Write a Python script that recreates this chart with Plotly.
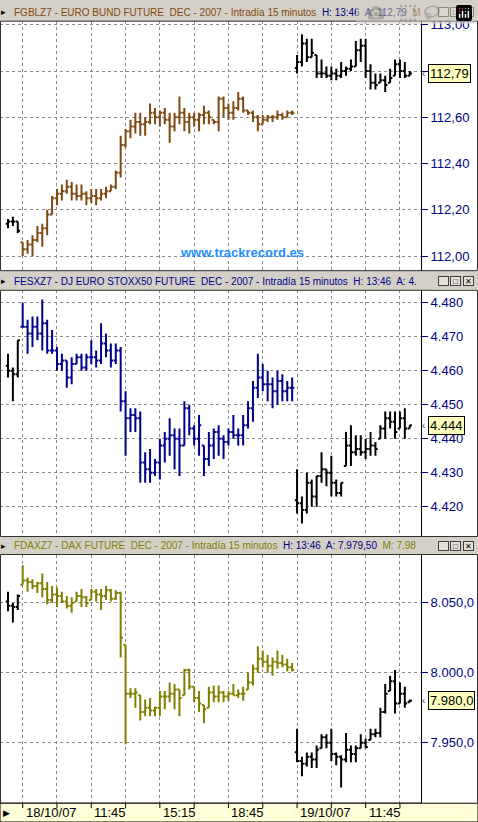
import plotly.graph_objects as go

# ---------------- data (bar index 0..82, 15-minute bars) ----------------
bund_high = [112.16,112.17,112.15,112.06,112.07,112.09,112.13,112.14,112.20,112.26,112.29,112.31,112.33,112.32,112.31,112.31,112.28,112.29,112.29,112.29,112.30,112.31,112.37,112.52,112.55,112.59,112.62,112.62,112.60,112.66,112.64,112.63,112.64,112.62,112.62,112.69,112.64,112.62,112.62,112.62,112.65,112.63,112.59,112.69,112.69,112.66,112.67,112.71,112.69,112.63,112.63,112.61,112.61,112.61,112.61,112.63,112.62,112.63,112.63,
             112.87,112.96,112.94,112.94,112.87,112.85,112.82,112.82,112.81,112.84,112.82,112.85,112.93,112.94,112.94,112.83,112.79,112.79,112.78,112.81,112.85,112.85,112.84,112.80]
bund_low = [112.12,112.13,112.10,112.00,112.01,112.00,112.06,112.04,112.09,112.18,112.22,112.24,112.27,112.24,112.24,112.24,112.22,112.23,112.22,112.24,112.25,112.28,112.29,112.34,112.47,112.51,112.53,112.52,112.52,112.57,112.57,112.56,112.57,112.49,112.54,112.57,112.54,112.53,112.56,112.54,112.57,112.57,112.57,112.54,112.60,112.59,112.59,112.63,112.62,112.61,112.58,112.54,112.57,112.58,112.58,112.59,112.59,112.60,112.61,
            112.79,112.82,112.84,112.86,112.77,112.77,112.77,112.76,112.76,112.77,112.78,112.80,112.82,112.84,112.77,112.72,112.72,112.75,112.71,112.75,112.78,112.77,112.77,112.78]
bund_close = [112.15,112.15,112.11,112.03,112.05,112.07,112.10,112.12,112.18,112.25,112.27,112.28,112.30,112.27,112.26,112.27,112.25,112.26,112.25,112.27,112.28,112.30,112.36,112.48,112.54,112.56,112.58,112.57,112.58,112.62,112.60,112.62,112.59,112.56,112.60,112.62,112.58,112.60,112.59,112.61,112.62,112.60,112.58,112.68,112.64,112.62,112.64,112.68,112.63,112.62,112.60,112.57,112.59,112.60,112.60,112.61,112.60,112.62,112.62,
              112.84,112.92,112.86,112.88,112.79,112.79,112.78,112.79,112.78,112.80,112.81,112.82,112.89,112.91,112.80,112.75,112.74,112.76,112.74,112.77,112.83,112.80,112.78,112.79]

esx_high = [4465,4461,4469,4480,4475,4476,4476,4481,4475,4472,4467,4465,4463,4464,4465,4465,4465,4469,4466,4474,4471,4468,4468,4467,4454,4449,4449,4448,4436,4437,4434,4440,4442,4446,4443,4443,4451,4450,4444,4447,4438,4442,4443,4444,4441,4443,4447,4443,4447,4451,4457,4465,4462,4460,4458,4460,4459,4457,4458,
            4431,4423,4430,4428,4429,4436,4431,4435,4428,4427,4442,4444,4441,4441,4440,4442,4439,4444,4448,4448,4448,4448,4449,4444]
esx_low = [4458,4451,4458,4473,4465,4467,4469,4466,4465,4465,4460,4460,4455,4456,4462,4460,4460,4462,4461,4462,4464,4461,4462,4448,4435,4442,4442,4427,4427,4427,4429,4428,4433,4435,4431,4429,4438,4441,4438,4435,4429,4432,4434,4435,4434,4438,4440,4438,4438,4443,4445,4452,4454,4451,4449,4450,4451,4451,4451,
           4418,4415,4418,4420,4420,4427,4426,4423,4423,4423,4432,4432,4435,4435,4434,4435,4435,4440,4440,4443,4440,4443,4440,4443]
esx_close = [4460,4459,4469,4473,4471,4473,4471,4474,4466,4466,4462,4463,4458,4462,4464,4461,4464,4464,4463,4468,4466,4463,4466,4451,4446,4447,4446,4433,4431,4430,4433,4438,4440,4441,4440,4438,4449,4443,4440,4444,4434,4438,4442,4440,4439,4442,4441,4441,4444,4449,4455,4458,4456,4456,4454,4457,4454,4455,4455,
             4421,4419,4427,4423,4429,4431,4430,4427,4424,4427,4438,4436,4437,4436,4437,4438,4437,4443,4446,4445,4442,4446,4443,4444]

dax_high = [8058,8050,8056,8077,8068,8067,8065,8071,8065,8062,8061,8058,8055,8054,8058,8060,8055,8060,8060,8060,8062,8060,8059,8058,8020,7989,7989,7984,7981,7982,7976,7987,7987,7993,7992,7988,8003,8003,7990,7987,7977,7990,7991,7991,7987,7987,7992,7988,7990,8000,8006,8019,8016,8013,8011,8016,8013,8010,8007,
            7960,7940,7943,7943,7948,7956,7956,7960,7943,7941,7957,7948,7948,7956,7953,7960,7960,7975,7992,7998,8002,7993,7990,7981]
dax_low = [8044,8036,8045,8063,8058,8060,8057,8054,8049,8050,8047,8050,8046,8043,8051,8047,8047,8052,8051,8045,8052,8051,8052,8011,7949,7982,7975,7966,7969,7969,7969,7969,7974,7979,7974,7969,7984,7988,7979,7972,7964,7975,7979,7979,7979,7980,7984,7982,7980,7988,7991,8000,8004,8000,7998,8003,8004,8001,8001,
           7936,7926,7933,7932,7932,7946,7946,7937,7934,7918,7936,7936,7936,7946,7946,7952,7954,7954,7971,7987,7971,7978,7975,7979]
dax_close = [8048,8047,8055,8066,8065,8062,8064,8060,8052,8056,8055,8051,8048,8050,8055,8054,8050,8058,8056,8055,8059,8053,8057,8025,7985,7985,7986,7972,7975,7973,7975,7983,7983,7985,7988,7982,8002,7990,7982,7978,7974,7986,7983,7986,7983,7985,7984,7985,7985,7993,8003,8010,8008,8005,8008,8007,8006,8004,8002,
             7937,7935,7940,7938,7945,7954,7950,7942,7940,7938,7945,7942,7946,7950,7947,7956,7957,7972,7985,7994,7978,7985,7978,7980]

x_tick_idx = [3, 17, 31, 45, 59, 73]
x_tick_text = ["18/10/07", "11:45", "15:15", "18:45", "19/10/07", "11:45"]
grid_idx = [3, 10, 17, 24, 31, 38, 45, 52, 59, 66, 73, 80]

panels = [
    dict(h=bund_high, l=bund_low, c=bund_close, color="#7f4a12",
         rng=[111.937, 113.016], dom=[0.674, 0.979],
         tv=[112.0, 112.2, 112.4, 112.6, 112.8, 113.0],
         tt=["112,00", "112,20", "112,40", "112,60", "", "113,00"],
         last=112.79, lasttxt="112,79",
         title=("<span style='color:#7f4a12'>FGBLZ7 - EURO BUND FUTURE  DEC - 2007 - Intradía 15 minutos  </span>"
                "<span style='color:#000080'>H: 13:46  A: 112,79  </span><span style='color:#7f4a12'>M</span>")),
    dict(h=esx_high, l=esx_low, c=esx_close, color="#00008b",
         rng=[4411.2, 4483.7], dom=[0.349, 0.650],
         tv=[4420, 4430, 4440, 4450, 4460, 4470, 4480],
         tt=["4.420", "4.430", "4.440", "4.450", "4.460", "4.470", "4.480"],
         last=4444, lasttxt="4.444",
         title=("<span style='color:#00008b'>FESXZ7 - DJ EURO STOXX50 FUTURE  DEC - 2007 - Intradía 15 minutos  H: 13:46  A: 4.</span>")),
    dict(h=dax_high, l=dax_low, c=dax_close, color="#808000",
         rng=[7906.8, 8084.6], dom=[0.023, 0.327],
         tv=[7950, 8000, 8050],
         tt=["7.950,0", "8.000,0", "8.050,0"],
         last=7980, lasttxt="7.980,0",
         title=("<span style='color:#808000'>FDAXZ7 - DAX FUTURE  DEC - 2007 - Intradía 15 minutos  </span>"
                "<span style='color:#000080'>H: 13:46  A: 7.979,50  </span><span style='color:#808000'>M: 7.98</span>")),
]

W, H = 478, 822
fig = go.Figure()
shapes, annos, buttons = [], [], []
XR = [-1.63, 84.3]
XD = [0, 421 / W]
FONT = "Liberation Sans"

segments = [(0, 3, "black"), (3, 59, None), (59, 83, "black")]
for k, p in enumerate(panels):
    n = k + 1
    xa = "x" if n == 1 else f"x{n}"
    ya = "y" if n == 1 else f"y{n}"
    opens = [(p["h"][0] + p["l"][0]) / 2] + [min(max(p["c"][i - 1], p["l"][i]), p["h"][i]) for i in range(1, len(p["c"]))]
    opens[59] = (p["h"][59] * 0.3 + p["l"][59] * 0.7)
    for a, b, col in segments:
        col = col or p["color"]
        fig.add_trace(go.Ohlc(
            x=list(range(a, b)), open=opens[a:b], high=p["h"][a:b], low=p["l"][a:b], close=p["c"][a:b],
            increasing=dict(line=dict(color=col, width=2)), decreasing=dict(line=dict(color=col, width=2)),
            tickwidth=0.45, xaxis=xa, yaxis=ya, hoverinfo="skip", showlegend=False))
    lay = {}
    lay["xaxis" if n == 1 else f"xaxis{n}"] = dict(
        domain=XD, range=XR, anchor=ya, rangeslider=dict(visible=False),
        tickvals=grid_idx, showticklabels=False, ticks="", showgrid=True,
        gridcolor="#8a8a8a", griddash="dot", gridwidth=1, zeroline=False, showline=False, fixedrange=True)
    lay["yaxis" if n == 1 else f"yaxis{n}"] = dict(
        domain=p["dom"], range=p["rng"], anchor=xa, side="right",
        tickvals=p["tv"], ticktext=p["tt"], ticks="outside", ticklen=6, tickcolor="#000080",
        tickfont=dict(family=FONT, size=13, color="#000080"),
        showgrid=True, gridcolor="#8a8a8a", griddash="dot", gridwidth=1, zeroline=False,
        showline=True, linecolor="black", linewidth=1, fixedrange=True)
    fig.update_layout(**lay)
    annos.append(dict(xref="paper", yref=ya, x=428 / W, y=p["last"], xanchor="left", yanchor="middle",
                      text=p["lasttxt"], showarrow=False, bgcolor="#ffffc0", bordercolor="black", borderwidth=1,
                      borderpad=1, font=dict(family=FONT, size=13, color="black")))
    annos.append(dict(xref="paper", yref=ya, x=427 / W, y=p["last"], xanchor="right", yanchor="middle",
                      text="‹", showarrow=False, font=dict(family=FONT, size=10, color="#444")))
    top_px = H - p["dom"][1] * H
    band_top = top_px - 17.5
    yc = 1 - (band_top + 8.5) / H
    shapes.append(dict(type="rect", xref="paper", yref="paper", x0=0, x1=1,
                       y0=1 - top_px / H, y1=1 - band_top / H, fillcolor="#d4d0c8", line=dict(width=0), layer="below"))
    annos.append(dict(xref="paper", yref="paper", x=12 / W, y=yc, xanchor="left", yanchor="middle",
                      text=p["title"], showarrow=False, font=dict(family=FONT, size=10)))
    annos.append(dict(xref="paper", yref="paper", x=4 / W, y=yc, xanchor="center", yanchor="middle",
                      text="▸", showarrow=False, font=dict(family=FONT, size=9, color="black")))
    buttons.append(dict(xref="paper", yref="paper", x=1, y=yc, xanchor="right", yanchor="middle",
                        text=" ", showarrow=False, bgcolor="#d4d0c8", width=44, height=15, borderpad=0,
                        font=dict(family=FONT, size=10)))
    for j, g in enumerate(["_", "□", "✕"]):
        xc = 443 + j * 12.5
        buttons.append(dict(xref="paper", yref="paper", x=xc / W, y=yc,
                            xanchor="center", yanchor="middle", text=g, showarrow=False,
                            bgcolor="#e4e0d8", bordercolor="#404040", borderwidth=1, width=9, height=8, borderpad=0,
                            font=dict(family=FONT, size=8, color="black")))
    shapes.append(dict(type="rect", xref="paper", yref="paper", x0=0.5 / W, x1=1 - 0.5 / W,
                       y0=p["dom"][0], y1=p["dom"][1], line=dict(color="#303030", width=1)))

shapes.append(dict(type="rect", xref="paper", yref="paper", x0=0, x1=1, y0=0, y1=0.023,
                   fillcolor="#ffffd8", line=dict(color="black", width=1), layer="below"))
for gi in grid_idx:
    shapes.append(dict(type="line", xref="x3", yref="paper", x0=gi, x1=gi, y0=0.023 - 5 / H, y1=0.023,
                       line=dict(color="black", width=1)))
for i, t in zip(x_tick_idx, x_tick_text):
    annos.append(dict(xref="x3", yref="paper", x=i, y=0.5 * 19 / H, xanchor="left", yanchor="middle",
                      text=t, showarrow=False, xshift=1, font=dict(family=FONT, size=13, color="black")))
annos.append(dict(xref="paper", yref="paper", x=6 / W, y=9 / H, xanchor="center", yanchor="middle",
                  text="▶", showarrow=False, font=dict(family=FONT, size=9, color="black")))
annos.append(dict(xref="paper", yref="paper", x=242 / W, y=1 - 250 / H, xanchor="center", yanchor="middle",
                  text="<b>www.trackrecord.es</b>", showarrow=False,
                  font=dict(family=FONT, size=13, color="#1e8fff")))

fig.update_layout(width=W, height=H, margin=dict(l=0, r=0, t=0, b=0),
                  paper_bgcolor="#d4d0c8", plot_bgcolor="white", shapes=shapes, annotations=annos + buttons,
                  showlegend=False)
for p in panels:
    fig.add_shape(type="rect", xref="paper", yref="paper", x0=421 / W, x1=1, y0=p["dom"][0], y1=p["dom"][1],
                  fillcolor="white", line=dict(width=0), layer="below")
fig.write_html("out.html", post_script="document.body.style.margin='0';document.body.style.overflow='hidden';")
